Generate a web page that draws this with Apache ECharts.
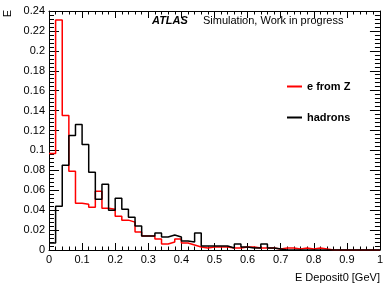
<!DOCTYPE html>
<html>
<head>
<meta charset="utf-8">
<script src="https://cdn.jsdelivr.net/npm/echarts@6/dist/echarts.min.js"></script>
<style>
  html, body { margin: 0; padding: 0; background: #fff; }
  #chart { width: 386px; height: 283px; }
</style>
</head>
<body>
<div id="chart"></div>
<script>
// 50 bins of 0.02 GeV from 0 to 1
const binWidth = 0.02;

const eFromZ = [
    0.097, 0.231, 0.135, 0.079, 0.047, 0.046, 0.043, 0.059, 0.042, 0.041,
    0.034, 0.030, 0.028, 0.018, 0.014, 0.014, 0.011, 0.006, 0.008, 0.011,
    0.007, 0.005, 0.003, 0.002, 0.003, 0.003, 0.003, 0.002, 0.002, 0.003,
    0.003, 0.002, 0.002, 0.002, 0.001, 0.002, 0.002, 0.001, 0.002, 0.001,
    0.002, 0.001, 0, 0, 0, 0, 0, 0, 0, 0
];

const hadrons = [
    0.007, 0.044, 0.085, 0.115, 0.126, 0.106, 0.078, 0.051, 0.066, 0.040,
    0.052, 0.041, 0.033, 0.024, 0.014, 0.014, 0.017, 0.013, 0.015, 0.013,
    0.009, 0.008, 0.017, 0.004, 0.004, 0.004, 0.004, 0.002, 0.006, 0.003,
    0.002, 0.002, 0.006, 0.002, 0.001, 0, 0, 0, 0, 0,
    0, 0, 0, 0, 0, 0, 0, 0, 0, 0
];

const seriesNames = ["e from Z", "hadrons"];

const FONT = "'Liberation Sans', Arial, Helvetica, sans-serif";

// step points: left edge of each bin, then closing point at the right edge
const toSteps = (values) => {
    const pts = values.map((v, i) => [i * binWidth, v]);
    pts.push([values.length * binWidth, values[values.length - 1]]);
    return pts;
};

// ROOT-like frame axis: ticks drawn inward, major + minor
const frameAxis = (position, max, interval, tickLen, minorLen, extra) => ({
    type: "value",
    min: 0,
    max: max,
    interval: interval,
    position: position,
    axisLine: { show: true, onZero: false, lineStyle: { color: "#000", width: 1 } },
    axisTick: { show: true, inside: true, length: tickLen, lineStyle: { color: "#000", width: 1 } },
    minorTick: { show: true, splitNumber: 5, length: minorLen, lineStyle: { color: "#000", width: 1 } },
    axisLabel: { show: false },
    splitLine: { show: false },
    minorSplitLine: { show: false },
    ...extra
});

const labelStyle = { show: true, fontFamily: FONT, fontSize: 11, color: "#000", margin: 4 };

const chart = echarts.init(document.getElementById("chart"), null, { renderer: "canvas" });

chart.setOption({
    animation: false,
    backgroundColor: "#fff",
    grid: { left: 49, right: 2, top: 11, bottom: 32, containLabel: false },
    legend: {
        data: seriesNames,
        orient: "vertical",
        left: 282,
        top: 76,
        itemWidth: 15,
        itemHeight: 2,
        itemGap: 20,
        icon: "rect",
        textStyle: { fontFamily: FONT, fontSize: 11, fontWeight: "bold", color: "#000" }
    },
    xAxis: [
        frameAxis("bottom", 1, 0.1, 7, 3.5, {
            name: "E Deposit0 [GeV]",
            nameLocation: "end",
            nameGap: 0,
            nameTextStyle: {
                fontFamily: FONT, fontSize: 11, color: "#000",
                align: "right", verticalAlign: "top", padding: [22, 0, 0, 0]
            },
            axisLabel: labelStyle
        }),
        frameAxis("top", 1, 0.1, 7, 3.5)
    ],
    yAxis: [
        frameAxis("left", 0.24, 0.02, 10, 5, { axisLabel: labelStyle }),
        frameAxis("right", 0.24, 0.02, 10, 5)
    ],
    graphic: [
        {
            type: "text",
            x: 8,
            y: 10,
            rotation: Math.PI / 2,
            style: {
                text: "E", fill: "#000", font: `11px ${FONT}`,
                textAlign: "right", textVerticalAlign: "middle"
            }
        },
        {
            type: "text",
            x: 152,
            y: 21,
            style: {
                text: "ATLAS", fill: "#000", font: `italic bold 11px ${FONT}`,
                textAlign: "left", textVerticalAlign: "middle"
            }
        },
        {
            type: "text",
            x: 203,
            y: 21,
            style: {
                text: "Simulation, Work in progress", fill: "#000", font: `11px ${FONT}`,
                textAlign: "left", textVerticalAlign: "middle"
            }
        }
    ],
    series: [
        {
            name: seriesNames[0],
            type: "line",
            step: "end",
            xAxisIndex: 0,
            yAxisIndex: 0,
            symbol: "none",
            color: "#ff0000",
            lineStyle: { color: "#ff0000", width: 1.5 },
            data: toSteps(eFromZ)
        },
        {
            name: seriesNames[1],
            type: "line",
            step: "end",
            xAxisIndex: 0,
            yAxisIndex: 0,
            symbol: "none",
            color: "#000000",
            lineStyle: { color: "#000000", width: 1.5 },
            data: toSteps(hadrons)
        }
    ]
});
</script>
</body>
</html>
